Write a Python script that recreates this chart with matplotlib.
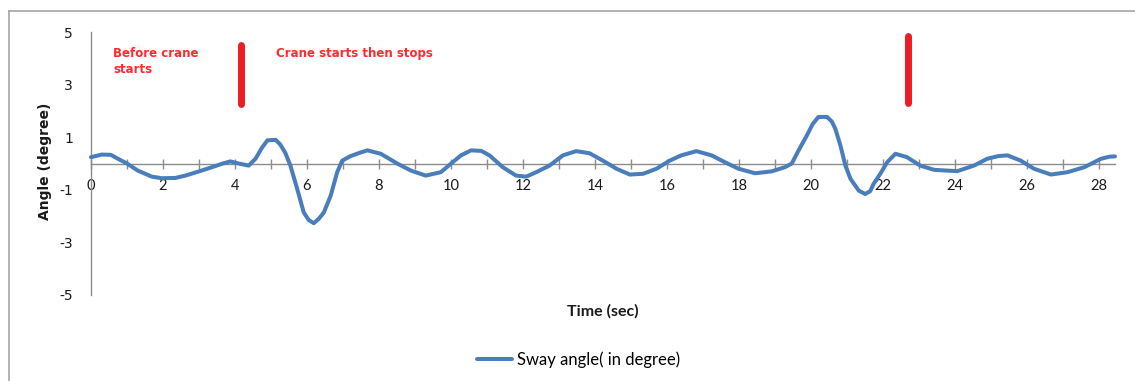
import matplotlib
matplotlib.use("Agg")
import matplotlib.pyplot as plt
from matplotlib.ticker import MultipleLocator
from matplotlib.lines import Line2D

# Sway angle record (time in seconds, angle in degrees)
time_sec = [0, 0.3, 0.55, 0.75, 1.0, 1.3, 1.69, 1.97, 2.34, 2.62, 2.98, 3.36,
            3.64, 3.87, 4.1, 4.38, 4.57, 4.75, 4.9, 5.13, 5.26, 5.4, 5.54, 5.73,
            5.91, 6.05, 6.19, 6.33, 6.47, 6.66, 6.84, 6.98, 7.21, 7.45, 7.68,
            8.05, 8.52, 8.89, 9.3, 9.72, 10.05, 10.28, 10.56, 10.84, 11.07,
            11.44, 11.81, 12.09, 12.37, 12.74, 13.11, 13.48, 13.85, 14.22, 14.6,
            14.97, 15.34, 15.71, 16.08, 16.4, 16.82, 17.24, 17.61, 17.99, 18.45,
            18.91, 19.28, 19.47, 19.66, 19.89, 20.05, 20.21, 20.45, 20.58, 20.68,
            20.82, 20.96, 21.1, 21.33, 21.51, 21.65, 21.74, 21.93, 22.12, 22.35,
            22.67, 23.04, 23.42, 23.79, 24.07, 24.53, 24.9, 25.2, 25.46, 25.83,
            26.2, 26.67, 27.13, 27.6, 28.06, 28.3, 28.45]
sway_angle = [0.24, 0.34, 0.33, 0.18, 0.0, -0.27, -0.5, -0.56, -0.55, -0.46,
              -0.31, -0.14, -0.01, 0.08, 0.0, -0.08, 0.18, 0.6, 0.88, 0.9, 0.72,
              0.4, -0.08, -0.97, -1.86, -2.15, -2.27, -2.1, -1.86, -1.22, -0.33,
              0.11, 0.28, 0.4, 0.5, 0.37, -0.01, -0.27, -0.46, -0.33, 0.05, 0.31,
              0.5, 0.48, 0.31, -0.14, -0.46, -0.5, -0.33, -0.08, 0.31, 0.47, 0.39,
              0.11, -0.2, -0.42, -0.39, -0.2, 0.11, 0.31, 0.47, 0.31, 0.05, -0.2,
              -0.37, -0.3, -0.14, 0.0, 0.5, 1.07, 1.5, 1.77, 1.77, 1.6, 1.32, 0.69,
              -0.08, -0.58, -1.03, -1.16, -1.05, -0.78, -0.39, 0.05, 0.37, 0.24,
              -0.08, -0.24, -0.27, -0.29, -0.08, 0.18, 0.28, 0.31, 0.11, -0.2,
              -0.42, -0.33, -0.14, 0.18, 0.26, 0.27]

x_ticks = [0, 2, 4, 6, 8, 10, 12, 14, 16, 18, 20, 22, 24, 26, 28]
y_ticks = [-5, -3, -1, 1, 3, 5]

# Event markers: (time, bottom, top)
event_marks = [(4.16, 2.28, 4.51), (22.7, 2.30, 4.86)]
event_notes = [(0.61, 4.42, "Before crane\nstarts"),
               (5.13, 4.42, "Crane starts then stops")]

W, H = 1135, 381
fig = plt.figure(figsize=(W / 100, H / 100), dpi=100)
ax = fig.add_axes([91 / W, 1 - 295 / H, (1115 - 91) / W, (295 - 32) / H])

line_col = "#4a7ebb"
axis_col = "#8c8c8c"
red = "#ed1c24"

ax.plot(time_sec, sway_angle, color=line_col, lw=2.9,
        solid_joinstyle="round", solid_capstyle="round",
        label="Sway angle( in degree)", clip_on=False, zorder=3)

ax.set_xlim(0, 28.45)
ax.set_ylim(-5, 5)

for s in ("top", "right"):
    ax.spines[s].set_visible(False)
ax.spines["bottom"].set_position(("data", 0))
for s in ("left", "bottom"):
    ax.spines[s].set_color(axis_col)
    ax.spines[s].set_linewidth(1.0)

ax.set_xticks(x_ticks)
ax.xaxis.set_minor_locator(MultipleLocator(1))
ax.tick_params(axis="x", which="both", direction="inout", length=7, width=1,
               color=axis_col, pad=8, labelsize=10.5, labelcolor="#1a1a1a")
for lab in ax.get_xticklabels():
    lab.set_family("Lato")

ax.set_yticks(y_ticks)
ax.set_yticklabels([str(v) for v in y_ticks])
ax.tick_params(axis="y", length=0, pad=13, labelsize=10, labelcolor="#1a1a1a")

# Event bars and notes
for tx, y0, y1 in event_marks:
    ax.plot([tx, tx], [y0, y1], color=red, lw=5, solid_capstyle="round", zorder=4)
for tx, ty, txt in event_notes:
    ax.text(tx, ty, txt, color="#ff2a2a", fontsize=8.5, fontweight="bold",
            va="top", ha="left", linespacing=1.3)

fig.text(45 / W, 1 - 161 / H, "Angle (degree)", rotation=90, ha="center",
         va="center", fontsize=10, fontweight="bold", color="#1a1a1a")
fig.text(603 / W, 1 - 311 / H, "Time (sec)", ha="center", va="center",
         fontsize=11.5, fontweight="bold", family="Lato", color="#1a1a1a")

fig.legend(handles=ax.get_lines()[:1], loc="center",
           bbox_to_anchor=(579 / W, 1 - 360 / H), frameon=False,
           handlelength=2.1, handletextpad=0.3,
           prop={"family": "Lato", "size": 12})

# Chart area outline
fig.add_artist(Line2D([9 / W, 1], [1 - 11 / H] * 2, transform=fig.transFigure,
                      color="#a6a6a6", lw=1.2))
fig.add_artist(Line2D([9 / W, 9 / W], [0, 1 - 11 / H], transform=fig.transFigure,
                      color="#a6a6a6", lw=1.2))

fig.savefig("out.png", dpi=100)
